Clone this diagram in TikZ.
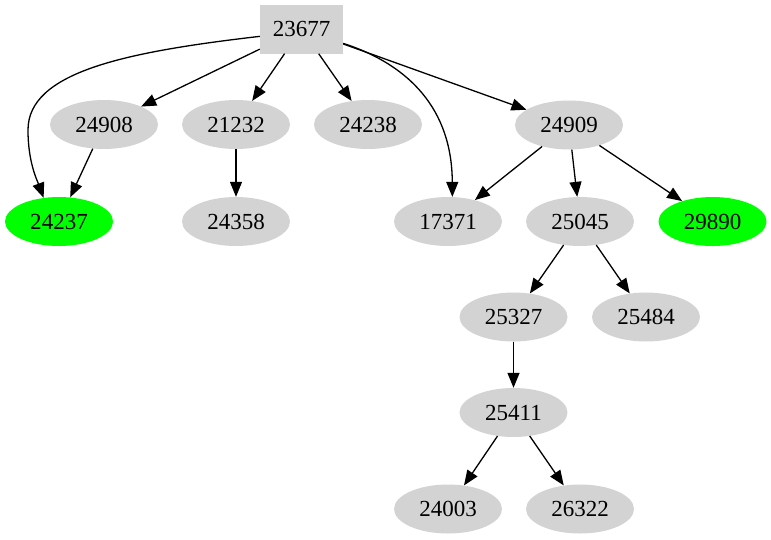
\documentclass[tikz,border=0pt]{standalone}
\usepackage{fontspec}
\setmainfont{Liberation Serif}
\usetikzlibrary{arrows.meta,shapes.geometric}
\definecolor{lgray}{RGB}{211,211,211}
\definecolor{lgreen}{RGB}{0,255,0}
\begin{document}
\begin{tikzpicture}[x=1pt,y=-1pt,
  every node/.style={font=\fontsize{23}{27}\selectfont, inner sep=0pt},
  gnode/.style={ellipse, fill=lgray, minimum width=108pt, minimum height=49pt},
  hnode/.style={ellipse, fill=lgreen, minimum width=108pt, minimum height=49pt},
  bnode/.style={rectangle, fill=lgray, minimum width=83pt, minimum height=49pt},
  edge/.style={-{Triangle[length=15pt,width=12pt]}, line width=1.3pt}]
\useasboundingbox (0,0) rectangle (771,539);
\node[bnode] (n23677) at (301.5,29) {23677};
\node[gnode] (n24908) at (104,124.5) {24908};
\node[gnode] (n21232) at (236,124.5) {21232};
\node[gnode] (n24238) at (368,124.5) {24238};
\node[gnode] (n24909) at (569,125) {24909};
\node[hnode] (n24237) at (59,221.5) {24237};
\node[gnode] (n24358) at (236,221.5) {24358};
\node[gnode] (n17371) at (448,221.5) {17371};
\node[gnode] (n25045) at (580,221.5) {25045};
\node[hnode] (n29890) at (712.5,221.5) {29890};
\node[gnode] (n25327) at (513.5,317) {25327};
\node[gnode] (n25484) at (646,317) {25484};
\node[gnode] (n25411) at (513.5,412.5) {25411};
\node[gnode] (n24003) at (448,509) {24003};
\node[gnode] (n26322) at (580,509) {26322};
\draw[edge] (n23677.190) .. controls (125,52) and (28,72) .. (28,130) .. controls (28,162) and (37,180) .. (n24237.123);
\draw[edge] (n23677.341) .. controls (410,65) and (452,110) .. (n17371.80);
\draw[edge] (n23677) -- (n24908);
\draw[edge] (n23677) -- (n21232);
\draw[edge] (n23677) -- (n24238);
\draw[edge] (n23677) -- (n24909);
\draw[edge] (n24908) -- (n24237);
\draw[edge] (n21232) -- (n24358);
\draw[edge] (n24909) -- (n17371);
\draw[edge] (n24909) -- (n25045);
\draw[edge] (n24909) -- (n29890);
\draw[edge] (n25045) -- (n25327);
\draw[edge] (n25045) -- (n25484);
\draw[edge] (n25327) -- (n25411);
\draw[edge] (n25411) -- (n24003);
\draw[edge] (n25411) -- (n26322);
\end{tikzpicture}
\end{document}
